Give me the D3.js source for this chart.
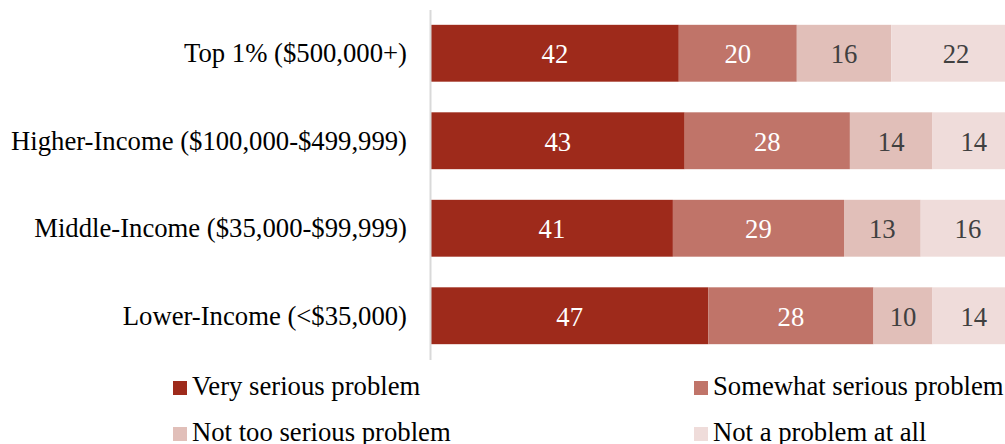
<!DOCTYPE html>
<html>
<head>
<meta charset="utf-8">
<script src="https://cdn.jsdelivr.net/npm/d3@7"></script>
<style>
  html, body { margin: 0; padding: 0; background: #fff; }
  svg { display: block; overflow: hidden; }
  text { font-family: "Liberation Serif", "Times New Roman", serif; }
</style>
</head>
<body>
<svg id="chart" width="1005" height="444"></svg>
<script>
// Income groups, top to bottom
const categories = [
  "Top 1% ($500,000+)",
  "Higher-Income ($100,000-$499,999)",
  "Middle-Income ($35,000-$99,999)",
  "Lower-Income (<$35,000)"
];

// Response categories (stack order, left to right)
const seriesNames = [
  "Very serious problem",
  "Somewhat serious problem",
  "Not too serious problem",
  "Not a problem at all"
];

// Percentages per income group
const verySerious     = [42, 43, 41, 47];
const somewhatSerious = [20, 28, 29, 28];
const notTooSerious   = [16, 14, 13, 10];
const notAProblem     = [22, 14, 16, 14];

const colors = ["#9E2A1B", "#C07469", "#E1BFB9", "#EFDCDA"];
const labelColors = ["#ffffff", "#ffffff", "#404040", "#404040"];

const svg = d3.select("#chart");
const FONT = "26.7px";
const FAMILY = "'Liberation Serif', 'Times New Roman', serif";

const rows = categories.map((c, i) => ({
  category: c,
  [seriesNames[0]]: verySerious[i],
  [seriesNames[1]]: somewhatSerious[i],
  [seriesNames[2]]: notTooSerious[i],
  [seriesNames[3]]: notAProblem[i]
}));

const stacked = d3.stack().keys(seriesNames)(rows);

const x = d3.scaleLinear().domain([0, 100]).range([431, 1021]);
const y = d3.scaleBand()
  .domain(categories)
  .range([9.5, 359.5])
  .paddingInner(0.35)
  .paddingOuter(0.175);

// Bars
const layers = svg.append("g")
  .selectAll("g")
  .data(stacked)
  .join("g")
  .attr("fill", (d, i) => colors[i]);

layers.selectAll("rect")
  .data(d => d)
  .join("rect")
  .attr("x", d => x(d[0]))
  .attr("y", d => y(d.data.category))
  .attr("width", d => x(d[1]) - x(d[0]))
  .attr("height", y.bandwidth());

// Value labels
svg.append("g")
  .selectAll("g")
  .data(stacked)
  .join("g")
  .attr("fill", (d, i) => labelColors[i])
  .selectAll("text")
  .data(d => d)
  .join("text")
  .attr("x", d => (x(d[0]) + x(d[1])) / 2)
  .attr("y", d => y(d.data.category) + y.bandwidth() / 2)
  .attr("dy", "0.38em")
  .attr("text-anchor", "middle")
  .style("font-size", FONT)
  .style("font-family", FAMILY)
  .text(d => d[1] - d[0]);

// Category axis
const axis = svg.append("g")
  .attr("transform", `translate(${x(0) - 1},0)`)
  .call(d3.axisLeft(y).tickSize(0).tickPadding(23));

axis.select(".domain")
  .attr("stroke", "#d9d9d9")
  .attr("stroke-width", 2);

axis.selectAll(".tick text")
  .attr("fill", "#000")
  .attr("dy", "0.34em")
  .style("font-size", FONT)
  .style("font-family", FAMILY);

// Legend (2 x 2)
const legendCols = [173, 694];
const legendRows = [381, 427];
const legend = svg.append("g")
  .selectAll("g")
  .data(seriesNames)
  .join("g")
  .attr("transform", (d, i) => `translate(${legendCols[i % 2]},${legendRows[Math.floor(i / 2)]})`);

legend.append("rect")
  .attr("width", 14)
  .attr("height", 14)
  .attr("fill", (d, i) => colors[i]);

legend.append("text")
  .attr("x", 19)
  .attr("y", 14)
  .attr("fill", "#000")
  .style("font-size", FONT)
  .style("font-family", FAMILY)
  .text(d => d);
</script>
</body>
</html>
